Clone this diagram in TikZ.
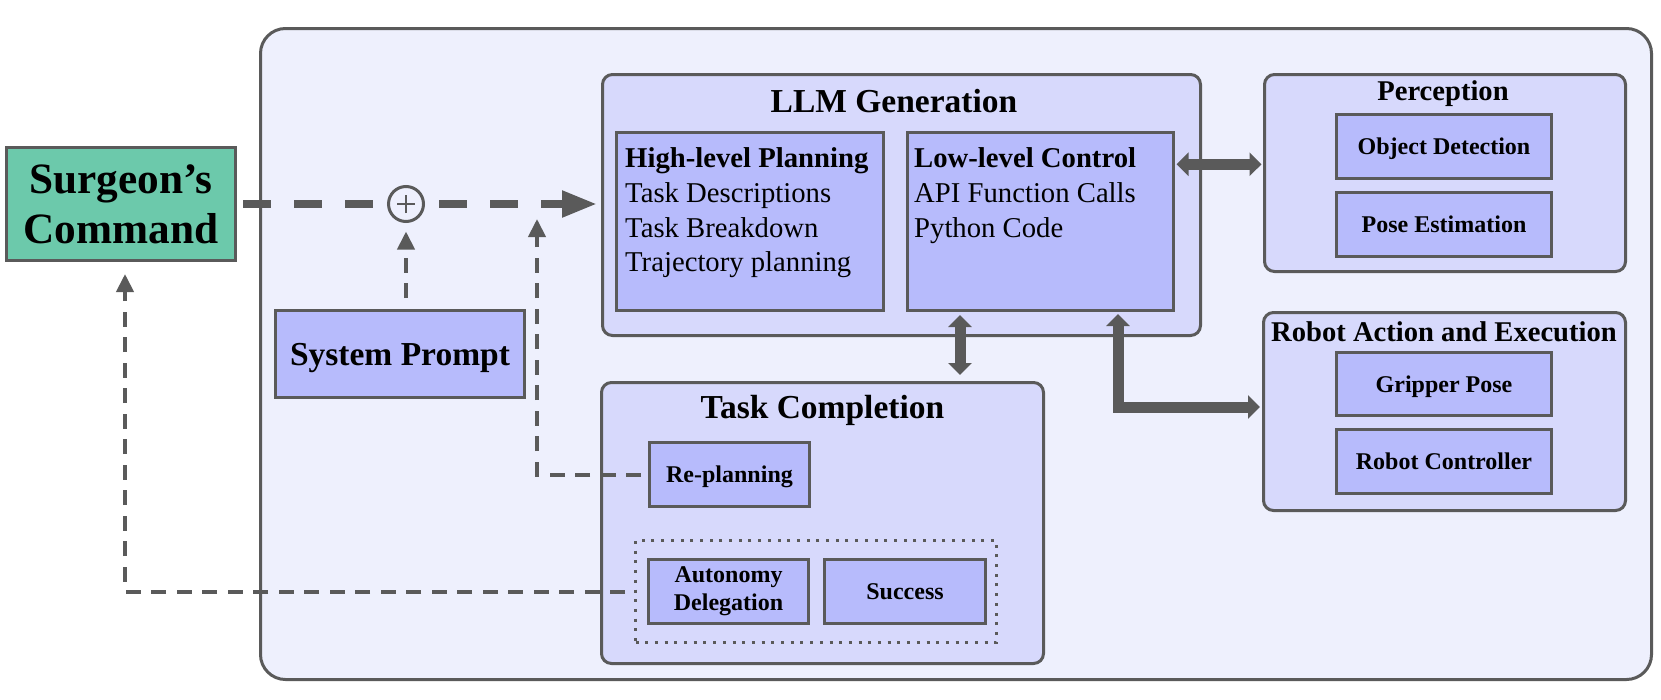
\documentclass[tikz,border=0pt]{standalone}
\usepackage{fontspec}
\setmainfont{Liberation Serif}
\usetikzlibrary{arrows.meta,calc}
\definecolor{bord}{HTML}{5A5A5A}
\definecolor{outerbg}{HTML}{EEF0FD}
\definecolor{groupbg}{HTML}{D7D9FC}
\definecolor{innerbg}{HTML}{B7BBFC}
\definecolor{tealbg}{HTML}{6CC9AB}
\begin{document}
\begin{tikzpicture}[x=1pt,y=-1pt,
  outerbox/.style={draw=bord, line width=3pt, fill=outerbg, rounded corners=25pt, inner sep=0pt},
  groupbox/.style={draw=bord, line width=3pt, fill=groupbg, rounded corners=10pt, inner sep=0pt},
  innerbox/.style={draw=bord, line width=3pt, fill=innerbg, inner sep=0pt, align=center,
    font=\fontsize{24}{28.3}\bfseries\selectfont},
  onelinebox/.style={innerbox, text height=16pt, text depth=0pt},
  bigtitle/.style={anchor=base, inner sep=0pt, font=\fontsize{33.5}{38}\bfseries\selectfont},
  midtitle/.style={anchor=base, inner sep=0pt, font=\fontsize{28.6}{33}\bfseries\selectfont},
  bodyline/.style={anchor=base west, inner sep=0pt, font=\fontsize{28.7}{33}\selectfont},
  bodyhead/.style={anchor=base west, inner sep=0pt, font=\fontsize{28.7}{33}\bfseries\selectfont},
  thickdash/.style={draw=bord, line width=8pt, dash pattern=on 28pt off 23pt},
  thindash/.style={draw=bord, line width=4pt, dash pattern=on 15pt off 10.5pt,
    -{Triangle[length=18pt,width=17pt]}},
  fatarrow/.style={draw=bord, line width=11pt, line join=miter,
    {Triangle[length=12pt,width=23pt]}-{Triangle[length=12pt,width=23pt]}}
]
\useasboundingbox (0,0) rectangle (1661,699);

% outer container
\node[outerbox, minimum width=1391pt, minimum height=651pt] (outer) at (956,354) {};

% Surgeon's command
\node[draw=bord, line width=3pt, fill=tealbg, minimum width=229pt, minimum height=113pt,
  inner sep=0pt, align=center, font=\fontsize{43.3}{50}\bfseries\selectfont] (surg) at (121,204)
  {Surgeon’s\\Command};

% System prompt
\node[draw=bord, line width=3pt, fill=innerbg, minimum width=249pt, minimum height=87pt,
  inner sep=0pt, text height=22pt, text depth=0pt, font=\fontsize{33.5}{38}\bfseries\selectfont] (sys) at (400,354) {System Prompt};

% plus junction
\node[circle, draw=bord, line width=3pt, fill=outerbg, minimum size=35pt, inner sep=0pt] (plus) at (406,204) {};
\draw[bord, line width=2.2pt] ([xshift=-9pt]plus.center) -- ([xshift=9pt]plus.center);
\draw[bord, line width=2.2pt] ([yshift=-9pt]plus.center) -- ([yshift=9pt]plus.center);

% LLM Generation
\node[groupbox, minimum width=598pt, minimum height=261pt] (llm) at (901.5,205) {};
\node[bigtitle] (llmt) at (894,112.3) {LLM Generation};
\node[draw=bord, line width=3pt, fill=innerbg, minimum width=267pt, minimum height=178pt, inner sep=0pt] (hl) at (750,221.5) {};
\node[draw=bord, line width=3pt, fill=innerbg, minimum width=266pt, minimum height=178pt, inner sep=0pt] (low) at (1040.5,221.5) {};
\node[bodyhead] (hl1) at (625,167.3) {High-level Planning};
\node[bodyline] (hl2) at (625,202.7) {Task Descriptions};
\node[bodyline] (hl3) at (625,237.7) {Task Breakdown};
\node[bodyline] (hl4) at (625,271.7) {Trajectory planning};
\node[bodyhead] (ll1) at (914,167.3) {Low-level Control};
\node[bodyline] (ll2) at (914,202.7) {API Function Calls};
\node[bodyline] (ll3) at (914,237.7) {Python Code};

% Task Completion
\node[groupbox, minimum width=442pt, minimum height=281pt] (task) at (822.5,523) {};
\node[bigtitle] (taskt) at (822.5,418.3) {Task Completion};
\node[onelinebox, minimum width=160pt, minimum height=64pt] (replan) at (729.5,474.5) {Re-planning};
\node[draw=bord, line width=3pt, dash pattern=on 3pt off 6.7pt, minimum width=361pt, minimum height=102pt, inner sep=0pt] (dotbox) at (816,591.5) {};
\node[innerbox, minimum width=160pt, minimum height=64pt] (auto) at (728.5,591.5) {Autonomy\\Delegation};
\node[onelinebox, minimum width=161pt, minimum height=64pt] (succ) at (905,591.5) {Success};

% Perception
\node[groupbox, minimum width=361pt, minimum height=197pt] (perc) at (1445,173) {};
\node[midtitle] (perct) at (1443,100) {Perception};
\node[onelinebox, minimum width=215pt, minimum height=64pt] (od) at (1444,146.5) {Object Detection};
\node[onelinebox, minimum width=215pt, minimum height=64pt] (pe) at (1444,224.5) {Pose Estimation};

% Robot Action and Execution
\node[groupbox, minimum width=362pt, minimum height=198pt] (rob) at (1444.5,411.5) {};
\node[midtitle] (robt) at (1444,341) {Robot Action and Execution};
\node[onelinebox, minimum width=215pt, minimum height=63pt] (gp) at (1444,384) {Gripper Pose};
\node[onelinebox, minimum width=215pt, minimum height=64pt] (rc) at (1444,461.5) {Robot Controller};

% helper coordinates
\coordinate (va) at (960,0);
\coordinate (ex) at (1118,0);
\coordinate (pa) at (0,164.3);
\coordinate (rpend) at (537,207);

% main dashed command flow
\draw[thickdash, shorten <=6pt, shorten >=12.5pt] (surg.east |- plus) -- (plus.west);
\draw[thickdash, shorten <=14pt, shorten >=4pt, -{Triangle[length=35pt,width=25pt]}] (plus.east) -- (plus.east -| llm.west);

% thin dashed feedback
\draw[thindash, shorten <=11pt, shorten >=8.5pt] (sys.north -| plus) -- (plus.south);
\draw[thindash, shorten <=7pt, shorten >=12pt] (replan.west) -| (rpend);
\draw[thindash, shorten <=9pt, shorten >=12pt] (dotbox.west) -| ([xshift=4pt]surg.south);

% thick solid arrows
\draw[fatarrow, shorten <=1.5pt, shorten >=1.5pt] (low.east |- pa) -- (perc.west |- pa);
\draw[fatarrow, shorten <=3pt, shorten >=6pt] (low.south -| va) -- (task.north -| va);
\draw[fatarrow, shorten <=2pt, shorten >=2pt] (low.south -| ex) |- ([yshift=4.5pt]rob.west);
\end{tikzpicture}
\end{document}
